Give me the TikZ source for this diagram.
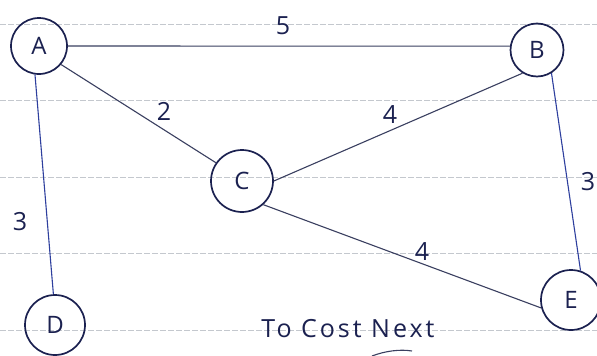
\documentclass[tikz,border=0pt]{standalone}
\usepackage{fontspec}
\setmainfont{Open Sans}
\begin{document}
\begin{tikzpicture}[x=1pt,y=-1pt,
  ink/.style={draw=inkc, line width=1.7pt},
  vert/.style={circle, ink, inner sep=0pt, font=\fontsize{24}{24}\selectfont, text=inkc},
  edge/.style={draw=inkg, line width=1.1pt},
  bedge/.style={draw=inkb, line width=1.1pt},
  wlab/.style={font=\fontsize{25}{25}\selectfont, text=inkc, inner sep=0pt},
  rule/.style={draw=rulec, line width=0.6pt, dash pattern=on 6pt off 2pt}]
\definecolor{inkc}{HTML}{1B2150}
\definecolor{inkg}{HTML}{3A3F60}
\definecolor{inkb}{HTML}{2E3F9E}
\definecolor{rulec}{HTML}{C4C8CE}
\useasboundingbox (0,0) rectangle (597,356);
\fill[white] (0,0) rectangle (597,356);
\foreach \yy in {24,100,177,253,330} \draw[rule] (0,\yy) -- (597,\yy);
\node[vert, minimum size=56pt] (A) at (39,46) {A};
\node[vert, minimum size=53pt] (B) at (537,50) {B};
\node[vert, minimum size=62pt] (C) at (242,181) {C};
\node[vert, minimum size=60pt] (D) at (55,325) {D};
\node[vert, minimum size=60pt] (E) at (571,300) {E};
\draw[edge] (A.0) -- (B.172);
\draw[edge] (A.-40) -- (C.145);
\draw[edge] (C.0) -- (B.238);
\draw[bedge] (A.-98) -- (D.93);
\draw[bedge] (B.-58) -- (E.72);
\draw[edge] (C.-48) -- (E.195);
\node[wlab] (w1) at (283,26) {5};
\node[wlab] (w2) at (164,111) {2};
\node[wlab] (w3) at (390,115) {4};
\node[wlab] (w4) at (20,222) {3};
\node[wlab] (w5) at (588,182) {3};
\node[wlab] (w6) at (422,252) {4};
\node[wlab, font=\fontsize{25}{25}\selectfont\addfontfeature{LetterSpace=12}] (T) at (348,329) {To Cost Next};
\draw[inkg, line width=1.1pt] (372,356) .. controls (385,351) and (400,349) .. (412,351);
\end{tikzpicture}
\end{document}
